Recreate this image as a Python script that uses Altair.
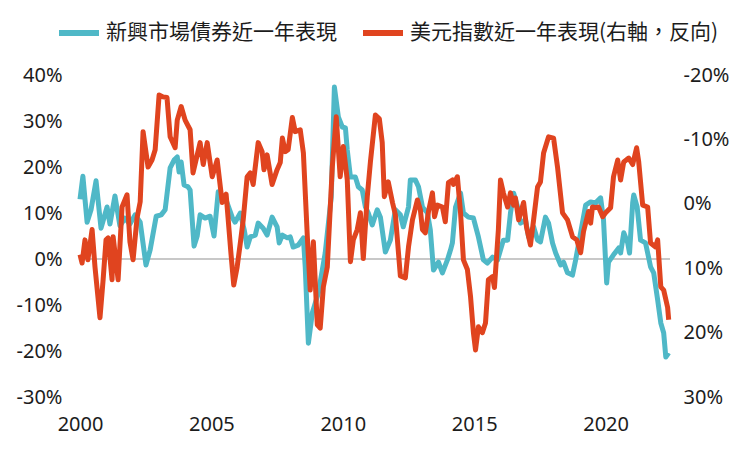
import altair as alt
import pandas as pd

# ---- data (year as decimal, value in %) ----
em_years = [2000.0, 2000.11, 2000.27, 2000.42, 2000.61, 2000.8, 2000.91, 2001.03, 2001.14, 2001.33,
            2001.52, 2001.71, 2001.9, 2002.1, 2002.29, 2002.51, 2002.67, 2002.9, 2003.09, 2003.24,
            2003.43, 2003.58, 2003.7, 2003.77, 2003.85, 2003.96, 2004.11, 2004.19, 2004.34, 2004.46,
            2004.57, 2004.76, 2004.95, 2005.1, 2005.26, 2005.41, 2005.56, 2005.79, 2005.9, 2006.1,
            2006.25, 2006.36, 2006.48, 2006.67, 2006.78, 2006.97, 2007.12, 2007.31, 2007.5, 2007.58,
            2007.7, 2007.89, 2008.0, 2008.11, 2008.3, 2008.5, 2008.57, 2008.69, 2008.84, 2009.07,
            2009.33, 2009.56, 2009.68, 2009.83, 2009.98, 2010.1, 2010.17, 2010.29, 2010.48, 2010.59,
            2010.74, 2010.86, 2010.97, 2011.12, 2011.31, 2011.43, 2011.62, 2011.81, 2012.0, 2012.19,
            2012.3, 2012.5, 2012.57, 2012.76, 2012.88, 2013.03, 2013.22, 2013.33, 2013.45, 2013.64,
            2013.79, 2013.98, 2014.1, 2014.17, 2014.29, 2014.48, 2014.59, 2014.78, 2014.97, 2015.16,
            2015.35, 2015.5, 2015.7, 2015.89, 2016.11, 2016.27, 2016.38, 2016.5, 2016.65, 2016.76,
            2016.95, 2017.07, 2017.26, 2017.41, 2017.52, 2017.71, 2017.83, 2017.98, 2018.1, 2018.29,
            2018.4, 2018.55, 2018.74, 2018.86, 2019.05, 2019.24, 2019.43, 2019.62, 2019.81, 2019.92,
            2020.04, 2020.11, 2020.3, 2020.5, 2020.57, 2020.69, 2020.84, 2020.91, 2021.03, 2021.07,
            2021.2, 2021.33, 2021.52, 2021.71, 2021.83, 2021.98, 2022.1, 2022.21, 2022.29, 2022.4]
em_values = [13.0, 18.0, 8.0, 10.7, 17.0, 6.7, 8.9, 11.3, 7.6, 13.7,
             7.2, 8.9, 7.6, 9.6, 8.0, -1.3, 2.0, 9.3, 9.6, 10.7,
             19.8, 21.5, 22.2, 18.9, 21.1, 16.1, 15.7, 15.0, 2.8, 5.0,
             9.6, 8.9, 9.3, 5.0, 14.6, 13.5, 12.8, 9.1, 8.0, 10.0,
             6.3, 2.6, 4.8, 5.2, 7.8, 6.7, 5.2, 9.1, 7.0, 3.5,
             5.2, 4.6, 4.8, 2.6, 3.0, 4.6, -1.7, -18.3, -11.7, -7.4,
             1.3, 13.5, 37.4, 30.9, 28.7, 28.5, 23.7, 17.8, 17.8, 15.7,
             15.0, 11.3, 10.0, 7.4, 10.7, 9.1, 1.5, 4.1, 10.7, 9.6,
             7.0, 11.3, 17.2, 17.2, 15.7, 11.3, 10.0, 6.3, -2.4, -0.7,
             -3.0, -0.2, 2.0, 3.5, 11.3, 14.3, 10.0, 9.1, 8.9, 4.8,
             -0.2, -0.9, 0.4, -0.2, 4.1, 4.1, 10.0, 14.3, 11.3, 7.8,
             8.5, 4.8, 7.0, 4.1, 3.7, 9.1, 7.8, 3.5, 1.3, -1.3,
             -0.7, -3.0, -3.5, -0.2, 5.7, 11.7, 12.4, 12.2, 13.3, 8.5,
             -5.2, -0.7, 0.9, 2.4, 1.3, 5.7, 3.5, 1.3, 12.2, 13.9,
             11.3, 4.1, 3.5, -1.7, -3.0, -8.9, -13.9, -16.1, -21.3, -20.4]

usd_years = [2000.0, 2000.08, 2000.19, 2000.3, 2000.46, 2000.57, 2000.76, 2000.88, 2000.99, 2001.07,
             2001.22, 2001.26, 2001.45, 2001.6, 2001.79, 2001.9, 2002.02, 2002.17, 2002.29, 2002.4,
             2002.59, 2002.74, 2002.86, 2003.01, 2003.16, 2003.31, 2003.43, 2003.62, 2003.7, 2003.85,
             2004.0, 2004.19, 2004.3, 2004.57, 2004.69, 2004.84, 2005.03, 2005.22, 2005.41, 2005.56,
             2005.75, 2005.85, 2005.98, 2006.1, 2006.21, 2006.36, 2006.48, 2006.59, 2006.78, 2006.93,
             2007.0, 2007.12, 2007.31, 2007.5, 2007.62, 2007.7, 2007.81, 2007.92, 2008.08, 2008.19,
             2008.38, 2008.5, 2008.65, 2008.76, 2008.88, 2009.03, 2009.14, 2009.26, 2009.41, 2009.6,
             2009.75, 2009.9, 2010.02, 2010.17, 2010.29, 2010.4, 2010.55, 2010.67, 2010.78, 2010.93,
             2011.05, 2011.24, 2011.39, 2011.5, 2011.58, 2011.73, 2011.89, 2012.0, 2012.19, 2012.38,
             2012.5, 2012.65, 2012.84, 2012.95, 2013.03, 2013.14, 2013.26, 2013.41, 2013.49, 2013.6,
             2013.79, 2013.9, 2014.02, 2014.17, 2014.21, 2014.36, 2014.48, 2014.59, 2014.74, 2014.86,
             2014.97, 2015.05, 2015.16, 2015.31, 2015.43, 2015.54, 2015.7, 2015.77, 2015.92, 2016.0,
             2016.11, 2016.27, 2016.38, 2016.5, 2016.57, 2016.69, 2016.88, 2016.99, 2017.14, 2017.26,
             2017.41, 2017.52, 2017.64, 2017.83, 2018.02, 2018.17, 2018.36, 2018.55, 2018.74, 2018.9,
             2019.05, 2019.16, 2019.35, 2019.43, 2019.5, 2019.62, 2019.73, 2019.89, 2020.0, 2020.19,
             2020.3, 2020.46, 2020.57, 2020.69, 2020.88, 2021.03, 2021.18, 2021.26, 2021.41, 2021.6,
             2021.71, 2021.9, 2021.98, 2022.1, 2022.21, 2022.36, 2022.4]
usd_values = [7.9, 9.2, 5.6, 8.7, 4.0, 9.8, 17.7, 11.8, 5.6, 5.3,
              11.8, 5.1, 11.8, 0.5, -1.4, 5.9, 8.7, 2.2, -0.3, -11.2,
              -5.7, -6.8, -8.4, -16.9, -16.6, -16.5, -10.4, -8.7, -13.0, -15.1,
              -13.0, -11.5, -4.8, -9.5, -6.1, -9.5, -4.2, -6.8, -0.2, -1.5,
              8.0, 12.6, 9.8, 6.1, 2.5, -4.2, -4.8, -3.0, -9.5, -8.1,
              -5.3, -7.6, -3.0, -5.3, -6.4, -10.2, -8.1, -8.4, -13.4, -11.2,
              -11.5, -7.9, 5.1, 13.4, 5.9, 18.8, 19.3, 12.9, 9.8, -5.7,
              -13.5, -4.2, -8.9, -3.7, 9.0, 5.6, 4.0, 1.4, 8.5, -1.1,
              -6.5, -13.8, -13.2, -9.5, -1.1, -3.4, -0.2, 1.7, 11.2, 11.5,
              6.7, 2.5, -0.6, 0.9, 4.0, 4.5, 1.2, -1.7, 2.0, 0.2,
              0.5, 2.8, -3.3, -3.7, -3.0, -4.2, 1.4, 8.7, 10.2, 14.4,
              20.0, 22.7, 19.1, 20.0, 18.5, 11.8, 11.3, 13.0, 4.0, -3.7,
              -1.7, 0.5, -1.7, 0.2, -0.9, 2.5, -0.2, 3.6, 6.4, 2.5,
              -2.6, -3.4, -7.9, -10.4, -10.2, -5.7, 1.4, 2.5, 5.1, 5.6,
              7.6, 4.3, 1.2, 3.0, 0.5, 0.6, 0.5, 2.0, 1.4, 0.6,
              -4.2, -6.8, -3.7, -6.5, -7.1, -6.1, -8.7, -6.5, 0.2, 0.5,
              6.1, 6.7, 5.6, 12.9, 13.4, 16.1, 18.0]

left_ticks = [-30, -20, -10, 0, 10, 20, 30, 40]
right_ticks = [-20, -10, 0, 10, 20, 30]
x_ticks = [2000, 2005, 2010, 2015, 2020]

EM = "新興市場債券近一年表現"
USD = "美元指數近一年表現(右軸，反向)"
TEAL = "#4FB8C7"
RED = "#E0441F"
TXT = "#1c1c1c"

em_df = pd.DataFrame({"year": em_years, "value": em_values, "series": EM})
usd_df = pd.DataFrame({"year": usd_years, "value": usd_values, "series": USD})

x_enc = alt.X(
    "year:Q",
    scale=alt.Scale(domain=[2000, 2022.45], nice=False, zero=False),
    axis=alt.Axis(values=x_ticks, format="d", title=None, grid=False, domain=False,
                  ticks=False, labelFontSize=20, labelPadding=17, labelFont="Noto Sans",
                  labelColor=TXT, labelFlush=False),
)

color_enc = alt.Color(
    "series:N",
    scale=alt.Scale(domain=[EM, USD], range=[TEAL, RED]),
    legend=alt.Legend(title=None, orient="none", legendX=-24, legendY=-65,
                      direction="horizontal", symbolType="stroke", symbolStrokeWidth=6,
                      symbolSize=1600, labelFontSize=21, labelFont="Noto Sans CJK TC",
                      labelColor=TXT, columnPadding=14, labelOffset=4, labelLimit=500),
)

left_scale = alt.Scale(domain=[-30, 40], nice=False, zero=False)
left_axis = alt.Axis(values=left_ticks, labelExpr="datum.value + '%'", title=None, grid=False,
                     domain=False, ticks=False, labelFontSize=20, labelPadding=18,
                     labelFont="Noto Sans", labelColor=TXT, orient="left")

right_scale = alt.Scale(domain=[-20, 30], nice=False, zero=False, reverse=True)
right_axis = alt.Axis(values=right_ticks, labelExpr="datum.value + '%'", title=None, grid=False,
                      domain=False, ticks=False, labelFontSize=20, labelPadding=13,
                      labelFont="Noto Sans", labelColor=TXT, orient="right")

zero_rule = alt.Chart(em_df).mark_rule(color="#c8c8c8", strokeWidth=2).encode(
    y=alt.datum(0, scale=left_scale, axis=left_axis)
)

em_line = alt.Chart(em_df).mark_line(strokeWidth=5, strokeJoin="round").encode(
    x=x_enc,
    y=alt.Y("value:Q", scale=left_scale, axis=left_axis),
    color=color_enc,
)

usd_line = alt.Chart(usd_df).mark_line(strokeWidth=5, strokeJoin="round").encode(
    x=x_enc,
    y=alt.Y("value:Q", scale=right_scale, axis=right_axis),
    color=color_enc,
)

left_layer = alt.layer(zero_rule, em_line)

chart = (
    alt.layer(left_layer, usd_line)
    .resolve_scale(y="independent")
    .properties(
        width=590,
        height=322,
        autosize=alt.AutoSizeParams(type="none"),
        padding={"left": 72, "top": 67, "right": 72, "bottom": 45},
        background="white",
    )
    .configure_view(stroke=None)
)

chart.save("out.html", embed_options={"renderer": "svg", "actions": False})
